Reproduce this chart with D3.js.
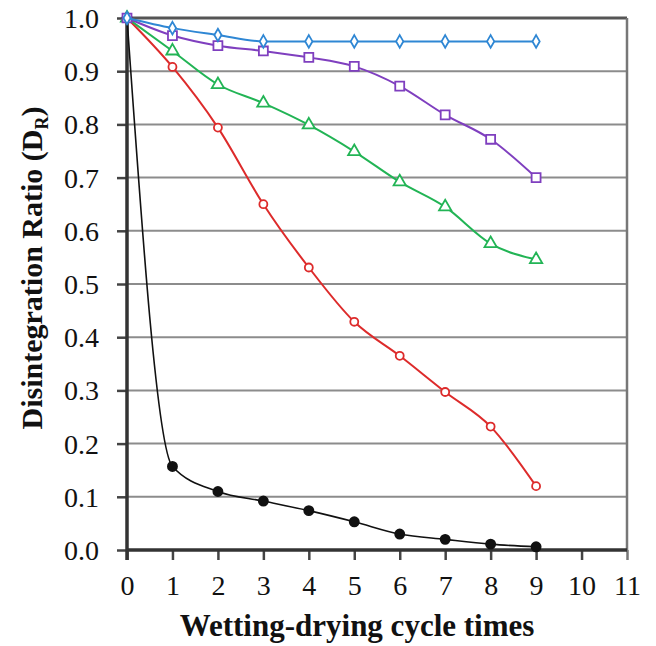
<!DOCTYPE html>
<html>
<head>
<meta charset="utf-8">
<script src="https://cdn.jsdelivr.net/npm/d3@7"></script>
<style>
  body { margin:0; background:#fff; }
  svg { display:block; font-family:"Liberation Serif", "DejaVu Serif", serif; }
  .tick text { font-family:"Liberation Serif", "DejaVu Serif", serif !important; font-size:28px !important; }
</style>
</head>
<body>
<svg width="656" height="646"></svg>
<script>
// data
const cycles = [0, 1, 2, 3, 4, 5, 6, 7, 8, 9]
const blueVals   = [1.0, 0.981, 0.968, 0.956, 0.956, 0.956, 0.956, 0.956, 0.956, 0.956]
const purpleVals = [1.0, 0.967, 0.948, 0.938, 0.926, 0.909, 0.872, 0.818, 0.772, 0.700]
const greenVals  = [1.0, 0.938, 0.875, 0.840, 0.799, 0.749, 0.692, 0.645, 0.576, 0.546]
const redVals    = [1.0, 0.908, 0.794, 0.650, 0.531, 0.429, 0.365, 0.297, 0.232, 0.120]
const blackVals  = [1.0, 0.157, 0.110, 0.092, 0.074, 0.053, 0.030, 0.020, 0.011, 0.006]
const xTicks = [0, 1, 2, 3, 4, 5, 6, 7, 8, 9, 10, 11]
const yTicks = [0, 0.1, 0.2, 0.3, 0.4, 0.5, 0.6, 0.7, 0.8, 0.9, 1.0]

const svg = d3.select("svg")
const width = +svg.attr("width")
const height = +svg.attr("height")
const margin = { top:18, right:29, bottom:96, left:127 }
const innerW = width - margin.left - margin.right
const innerH = height - margin.top - margin.bottom

const xScale = d3.scaleLinear().domain([0, 11]).range([0, innerW])
const yScale = d3.scaleLinear().domain([0, 1]).range([innerH, 0])

const g = svg.append("g")
    .attr("transform", `translate(${margin.left},${margin.top})`)

// gridlines
g.append("g").selectAll("line").data(yTicks.slice(1, -1))
    .enter().append("line")
    .attr("x1", 0).attr("x2", innerW)
    .attr("y1", d => yScale(d)).attr("y2", d => yScale(d))
    .attr("stroke", "#8c8c8c").attr("stroke-width", 2)

// top + right frame
g.append("line").attr("x1", 0).attr("x2", innerW).attr("y1", 0).attr("y2", 0)
    .attr("stroke", "#555").attr("stroke-width", 3)
g.append("line").attr("x1", innerW).attr("x2", innerW).attr("y1", 0).attr("y2", innerH)
    .attr("stroke", "#777").attr("stroke-width", 2.5)

// axes
const xAxis = d3.axisBottom(xScale).tickValues(xTicks).tickSize(10).tickPadding(15)
const yAxis = d3.axisLeft(yScale).tickValues(yTicks).tickSize(10).tickPadding(18)
    .tickFormat(d3.format(".1f"))

const xAxisG = g.append("g").call(xAxis)
    .attr("transform", `translate(0,${innerH})`)
const yAxisG = g.append("g").call(yAxis)

;[xAxisG, yAxisG].forEach(a => {
    a.select(".domain").remove()
    a.selectAll(".tick line").attr("stroke", "#444").attr("stroke-width", 2.5)
    a.selectAll("text").attr("fill", "#111")
})
yAxisG.selectAll("text").attr("dy", "0.34em")
xAxisG.selectAll(".tick line").filter(d => d === 11).attr("stroke", "#777")

// main axis lines
g.append("line").attr("x1", 0).attr("x2", innerW).attr("y1", innerH).attr("y2", innerH)
    .attr("stroke", "#333").attr("stroke-width", 3.5)
g.append("line").attr("x1", 0).attr("x2", 0).attr("y1", 0).attr("y2", innerH + 10)
    .attr("stroke", "#333").attr("stroke-width", 3.5)

// axis titles
svg.append("text")
    .attr("x", 357).attr("y", 636)
    .attr("text-anchor", "middle")
    .attr("font-weight", "bold").attr("font-size", "31px").attr("fill", "#111")
    .text("Wetting-drying cycle times")

const yt = svg.append("text")
    .attr("transform", "translate(42,268) rotate(-90)")
    .attr("text-anchor", "middle")
    .attr("font-weight", "bold").attr("font-size", "30px").attr("fill", "#111")
yt.append("tspan").text("Disintegration Ratio (D")
yt.append("tspan").text("R").attr("font-size", "18px").attr("dy", 6)
yt.append("tspan").text(")").attr("dy", -6)

// series (drawn bottom to top so blue sits on top at the shared start point)
const series = [
    { name:"black",  vals:blackVals,  color:"#111",    shape:d3.symbolCircle,  size:65, fill:"#111" },
    { name:"red",    vals:redVals,    color:"#dd2b2b", shape:d3.symbolCircle,  size:50, fill:"#fff" },
    { name:"green",  vals:greenVals,  color:"#22b455", shape:d3.symbolTriangle,size:65, fill:"#fff" },
    { name:"purple", vals:purpleVals, color:"#7f3fbf", shape:d3.symbolSquare,  size:80, fill:"#fff" },
    { name:"blue",   vals:blueVals,   color:"#2f87d4", shape:d3.symbolDiamond, size:45, fill:"#fff" }
]

const line = d3.line()
    .x(d => xScale(d[0])).y(d => yScale(d[1]))
    .curve(d3.curveMonotoneX)

series.forEach(s => {
    const pts = cycles.map((c, i) => [c, s.vals[i]])
    g.append("path").datum(pts)
        .attr("d", line)
        .attr("fill", "none")
        .attr("stroke", s.color)
        .attr("stroke-width", s.name === "black" ? 1.6 : 2)
    g.selectAll(null).data(pts).enter().append("path")
        .attr("d", d3.symbol().type(s.shape).size(s.size))
        .attr("transform", d => `translate(${xScale(d[0])},${yScale(d[1])})`)
        .attr("fill", s.fill)
        .attr("stroke", s.color)
        .attr("stroke-width", 1.8)
})
</script>
</body>
</html>
